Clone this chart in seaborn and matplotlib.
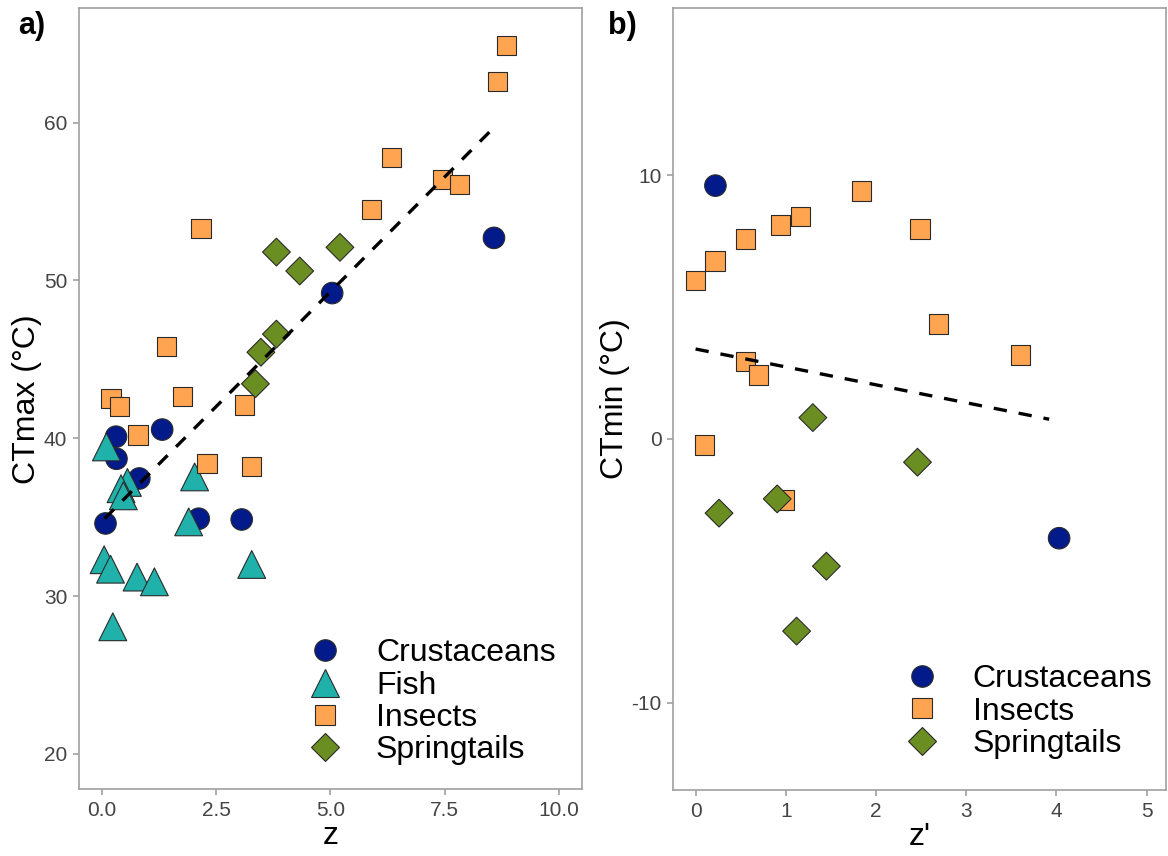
import matplotlib
matplotlib.use("Agg")
import matplotlib.pyplot as plt
import seaborn as sns
import numpy as np
import pandas as pd

sns.set_style("white")
plt.rcParams['font.family'] = ['Liberation Sans', 'DejaVu Sans']
plt.rcParams['axes.unicode_minus'] = False
plt.rcParams['text.color'] = 'black'
plt.rcParams['axes.labelcolor'] = 'black'

# panel a) CTmax vs z
crus_a_z = [0.08, 0.31, 0.32, 0.82, 1.32, 2.12, 3.06, 5.04, 8.58]
crus_a_ct = [34.6, 40.1, 38.7, 37.45, 40.55, 34.9, 34.85, 49.2, 52.7]
fish_a_z = [0.10, 0.56, 0.42, 0.47, 2.03, 1.90, 0.05, 0.19, 0.77, 1.15, 3.28, 0.24]
fish_a_ct = [39.45, 37.2, 36.8, 36.35, 37.55, 34.7, 32.3, 31.7, 31.2, 30.9, 32.0, 28.05]
ins_a_z = [8.85, 8.66, 6.34, 7.46, 7.82, 5.90, 2.17, 1.42, 1.76, 0.20, 0.39, 0.79, 3.12, 2.30, 3.27]
ins_a_ct = [64.9, 62.6, 57.8, 56.4, 56.1, 54.5, 53.3, 45.8, 42.66, 42.5, 42.0, 40.2, 42.1, 38.4, 38.2]
spr_a_z = [3.82, 4.33, 5.21, 3.82, 3.48, 3.36]
spr_a_ct = [51.8, 50.6, 52.1, 46.6, 45.45, 43.45]
fit_a_range = [0.06, 8.55]
fit_a_intercept, fit_a_slope = 34.73, 2.91

# panel b) CTmin vs z'
crus_b_z = [0.22, 4.03]
crus_b_ct = [9.6, -3.76]
ins_b_z = [1.84, 1.16, 0.94, 0.555, 0.215, 0.0, 2.49, 2.69, 3.60, 0.555, 0.695, 0.097, 0.98]
ins_b_ct = [9.39, 8.42, 8.11, 7.58, 6.74, 6.0, 7.95, 4.36, 3.18, 2.93, 2.42, -0.23, -2.31]
spr_b_z = [1.30, 2.46, 0.905, 0.26, 1.45, 1.12]
spr_b_ct = [0.81, -0.88, -2.27, -2.81, -4.82, -7.28]
fit_b_range = [0.0, 3.92]
fit_b_intercept, fit_b_slope = 3.41, -0.679

groups = ['Crustaceans', 'Fish', 'Insects', 'Springtails']
palette = {'Crustaceans': '#021a8a', 'Fish': '#20b2aa', 'Insects': '#ffa552', 'Springtails': '#6b8e23'}
markers = {'Crustaceans': 'o', 'Fish': '^', 'Insects': 's', 'Springtails': 'D'}
sizes = {'Crustaceans': 240, 'Fish': 400, 'Insects': 195, 'Springtails': 200}

df_a = pd.concat([
    pd.DataFrame({'z': crus_a_z, 'ct': crus_a_ct, 'group': 'Crustaceans'}),
    pd.DataFrame({'z': fish_a_z, 'ct': fish_a_ct, 'group': 'Fish'}),
    pd.DataFrame({'z': ins_a_z, 'ct': ins_a_ct, 'group': 'Insects'}),
    pd.DataFrame({'z': spr_a_z, 'ct': spr_a_ct, 'group': 'Springtails'}),
], ignore_index=True)
df_b = pd.concat([
    pd.DataFrame({'z': crus_b_z, 'ct': crus_b_ct, 'group': 'Crustaceans'}),
    pd.DataFrame({'z': ins_b_z, 'ct': ins_b_ct, 'group': 'Insects'}),
    pd.DataFrame({'z': spr_b_z, 'ct': spr_b_ct, 'group': 'Springtails'}),
], ignore_index=True)

fig = plt.figure(figsize=(11.68, 8.56), dpi=100)
ax1 = fig.add_axes([79 / 1168, 1 - 789.3 / 856, (581.7 - 79) / 1168, (789.3 - 8.3) / 856])
ax2 = fig.add_axes([673.3 / 1168, 1 - 790 / 856, (1166 - 673.3) / 1168, (790 - 8) / 856])


def draw_panel(ax, df, order, fit_range, b0, b1, xlabel, ylabel, leg_anchor):
    sns.scatterplot(data=df, x='z', y='ct', hue='group', style='group', size='group',
                    hue_order=order, style_order=order, size_order=order,
                    palette=palette, markers=markers, sizes=sizes,
                    edgecolor='#2a2a2a', linewidth=0.8, alpha=1, ax=ax, legend='full', zorder=2)
    xs = np.array(fit_range)
    ax.plot(xs, b0 + b1 * xs, color='black', lw=2.4, ls=(0, (4, 3.6)), zorder=3)
    ax.set_xlabel(xlabel, fontsize=23, labelpad=1)
    ax.set_ylabel(ylabel, fontsize=23, labelpad=1)
    for s in ax.spines.values():
        s.set_color('#a0a0a0')
        s.set_linewidth(1.2)
    ax.tick_params(axis='both', which='major', labelsize=15, colors='#a0a0a0',
                   labelcolor='#444444', length=4.5, width=1.2, direction='out',
                   pad=4, bottom=True, left=True)
    ax.grid(False)
    sns.move_legend(ax, 'upper left', bbox_to_anchor=leg_anchor, title=None, frameon=False,
                    fontsize=23, labelspacing=0.07, handletextpad=0.6, borderaxespad=0,
                    labelcolor='black')


draw_panel(ax1, df_a, groups, fit_a_range, fit_a_intercept, fit_a_slope,
           'z', 'CTmax (°C)', (0.40, 0.2095))
ax1.set_xlim(-0.5, 10.5)
ax1.set_ylim(17.75, 67.25)
ax1.set_xticks([0, 2.5, 5, 7.5, 10])
ax1.set_xticklabels(['0.0', '2.5', '5.0', '7.5', '10.0'])
ax1.set_yticks([20, 30, 40, 50, 60])

draw_panel(ax2, df_b, ['Crustaceans', 'Insects', 'Springtails'], fit_b_range,
           fit_b_intercept, fit_b_slope, "z'", 'CTmin (°C)', (0.413, 0.177))
ax2.set_xlim(-0.247, 5.215)
ax2.set_ylim(-13.3, 16.33)
ax2.set_xticks([0, 1, 2, 3, 4, 5])
ax2.set_yticks([-10, 0, 10])

fig.text(18 / 1168, 1 - 26 / 856, 'a)', fontsize=22, fontweight='bold', ha='left', va='center')
fig.text(608 / 1168, 1 - 26 / 856, 'b)', fontsize=22, fontweight='bold', ha='left', va='center')

fig.savefig('out.png', dpi=100)
